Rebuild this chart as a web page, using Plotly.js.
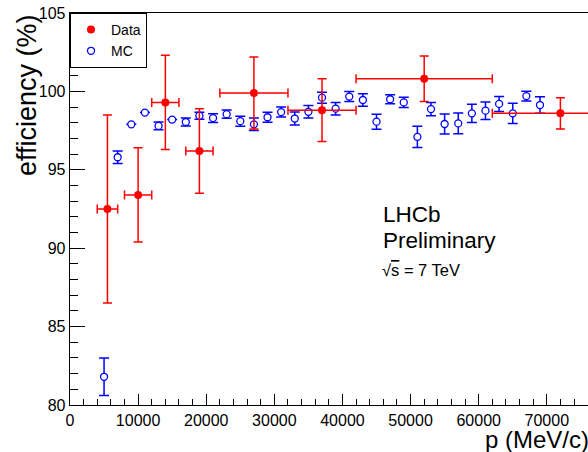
<!DOCTYPE html>
<html>
<head>
<meta charset="utf-8">
<script src="https://cdn.plot.ly/plotly-3.0.1.min.js"></script>
<style>html,body{margin:0;padding:0;background:#fff;}#chart{width:588px;height:452px;}</style>
</head>
<body>
<div id="chart"></div>
<script>
// Data (red): momentum bin centres, half-widths, efficiency and errors
var dataP = [5500, 10000, 14000, 19000, 27000, 37000, 52000, 72000];
var dataPErr = [1500, 2000, 2000, 2000, 5000, 5000, 10000, 10000];
var dataEff = [92.5, 93.4, 99.3, 96.2, 99.9, 98.8, 100.8, 98.6];
var dataEffErr = [6.0, 3.0, 3.0, 2.7, 2.3, 2.0, 1.45, 1.0];

// MC (blue open circles)
var mcP = [5000, 7000, 9000, 11000, 13000, 15000, 17000, 19000, 21000, 23000, 25000,
           27000, 29000, 31000, 33000, 35000, 37000, 39000, 41000, 43000, 45000, 47000,
           49000, 51000, 53000, 55000, 57000, 59000, 61000, 63000, 65000, 67000, 69000];
var mcEff = [81.8, 95.8, 97.9, 98.65, 97.8, 98.2, 98.05, 98.45, 98.3, 98.55, 98.1,
             97.9, 98.35, 98.68, 98.27, 98.7, 99.6, 98.9, 99.67, 99.45, 98.07, 99.5,
             99.3, 97.1, 98.87, 97.92, 97.96, 98.6, 98.77, 99.2, 98.6, 99.7, 99.13];
var mcEffErr = [1.2, 0.4, null, null, 0.25, null, 0.25, 0.22, 0.28, 0.26, 0.32,
                0.4, 0.32, 0.32, 0.42, 0.4, 0.35, 0.4, 0.32, 0.4, 0.48, 0.28,
                0.32, 0.67, 0.42, 0.64, 0.66, 0.58, 0.56, 0.48, 0.64, 0.31, 0.53];

var xTicks = [0, 10000, 20000, 30000, 40000, 50000, 60000, 70000];
var xTickText = ['0', '10000', '20000', '30000', '40000', '50000', '60000', '70000'];
var yTicks = [80, 85, 90, 95, 100, 105];
var yTickText = ['80', '85', '90', '95', '100', '105'];

var FONT = 'Liberation Sans, Arial, Helvetica, sans-serif';

var traceMC = {
  x: mcP, y: mcEff, type: 'scatter', mode: 'markers', name: 'MC',
  marker: {symbol: 'circle', size: 7, color: 'white', line: {color: '#0000ff', width: 1.3}},
  error_y: {type: 'data', array: mcEffErr, visible: true, color: '#0000ff', thickness: 1.5, width: 5},
  cliponaxis: true
};
var traceData = {
  x: dataP, y: dataEff, type: 'scatter', mode: 'markers', name: 'Data',
  marker: {symbol: 'circle', size: 8, color: '#ff0000'},
  error_y: {type: 'data', array: dataEffErr, visible: true, color: '#ff0000', thickness: 1.5, width: 4.5},
  error_x: {type: 'data', array: dataPErr, visible: true, color: '#ff0000', thickness: 1.5, width: 4.5},
  cliponaxis: true
};

var layout = {
  width: 588, height: 452,
  margin: {l: 70, r: 0, t: 13, b: 47, pad: 0},
  paper_bgcolor: 'white', plot_bgcolor: 'white',
  font: {family: FONT, color: 'black', size: 16},
  showlegend: true,
  legend: {
    x: 0, y: 1, xanchor: 'left', yanchor: 'top', traceorder: 'reversed',
    bgcolor: 'white', bordercolor: 'black', borderwidth: 1,
    font: {family: FONT, size: 14, color: 'black'},
    itemwidth: 30, tracegroupgap: 0
  },
  xaxis: {
    range: [0, 76050], showgrid: false, zeroline: false,
    showline: true, linecolor: 'black', linewidth: 1.3, mirror: true,
    ticks: 'inside', ticklen: 11, tickwidth: 1, tickcolor: 'black',
    tickmode: 'array', tickvals: xTicks, ticktext: xTickText,
    tickfont: {family: FONT, size: 16, color: 'black'},
    minor: {dtick: 2000, tick0: 0, ticks: 'inside', ticklen: 6, tickwidth: 1, tickcolor: 'black', showgrid: false}
  },
  yaxis: {
    range: [80, 105], showgrid: false, zeroline: false,
    showline: true, linecolor: 'black', linewidth: 1.3, mirror: false,
    ticks: 'inside', ticklen: 15, tickwidth: 1, tickcolor: 'black',
    tickmode: 'array', tickvals: yTicks, ticktext: yTickText,
    tickfont: {family: FONT, size: 16, color: 'black'},
    minor: {dtick: 1, tick0: 80, ticks: 'inside', ticklen: 8, tickwidth: 1, tickcolor: 'black', showgrid: false}
  },
  annotations: [
    {text: 'efficiency (%)', textangle: -90, xref: 'paper', yref: 'paper',
     x: (27 - 70) / 518, y: (405 - 95) / 392, xanchor: 'center', yanchor: 'middle',
     showarrow: false, font: {family: FONT, size: 27, color: 'black'}},
    {text: 'p (MeV/c)', xref: 'paper', yref: 'paper',
     x: (591 - 70) / 518, y: (405 - 440) / 392, xanchor: 'right', yanchor: 'middle',
     showarrow: false, font: {family: FONT, size: 24, color: 'black'}},
    {text: 'LHCb', xref: 'paper', yref: 'paper',
     x: (381 - 70) / 518, y: (405 - 214) / 392, xanchor: 'left', yanchor: 'middle',
     showarrow: false, font: {family: FONT, size: 22.5, color: 'black'}},
    {text: 'Preliminary', xref: 'paper', yref: 'paper',
     x: (381 - 70) / 518, y: (405 - 240) / 392, xanchor: 'left', yanchor: 'middle',
     showarrow: false, font: {family: FONT, size: 22.5, color: 'black'}},
    {text: '√<span style="text-decoration:overline">s</span> = 7 TeV', xref: 'paper', yref: 'paper',
     x: (380 - 70) / 518, y: (405 - 270) / 392, xanchor: 'left', yanchor: 'middle',
     showarrow: false, font: {family: FONT, size: 16.5, color: 'black'}}
  ]
};

Plotly.newPlot('chart', [traceMC, traceData], layout, {displayModeBar: false, staticPlot: true});
</script>
</body>
</html>
